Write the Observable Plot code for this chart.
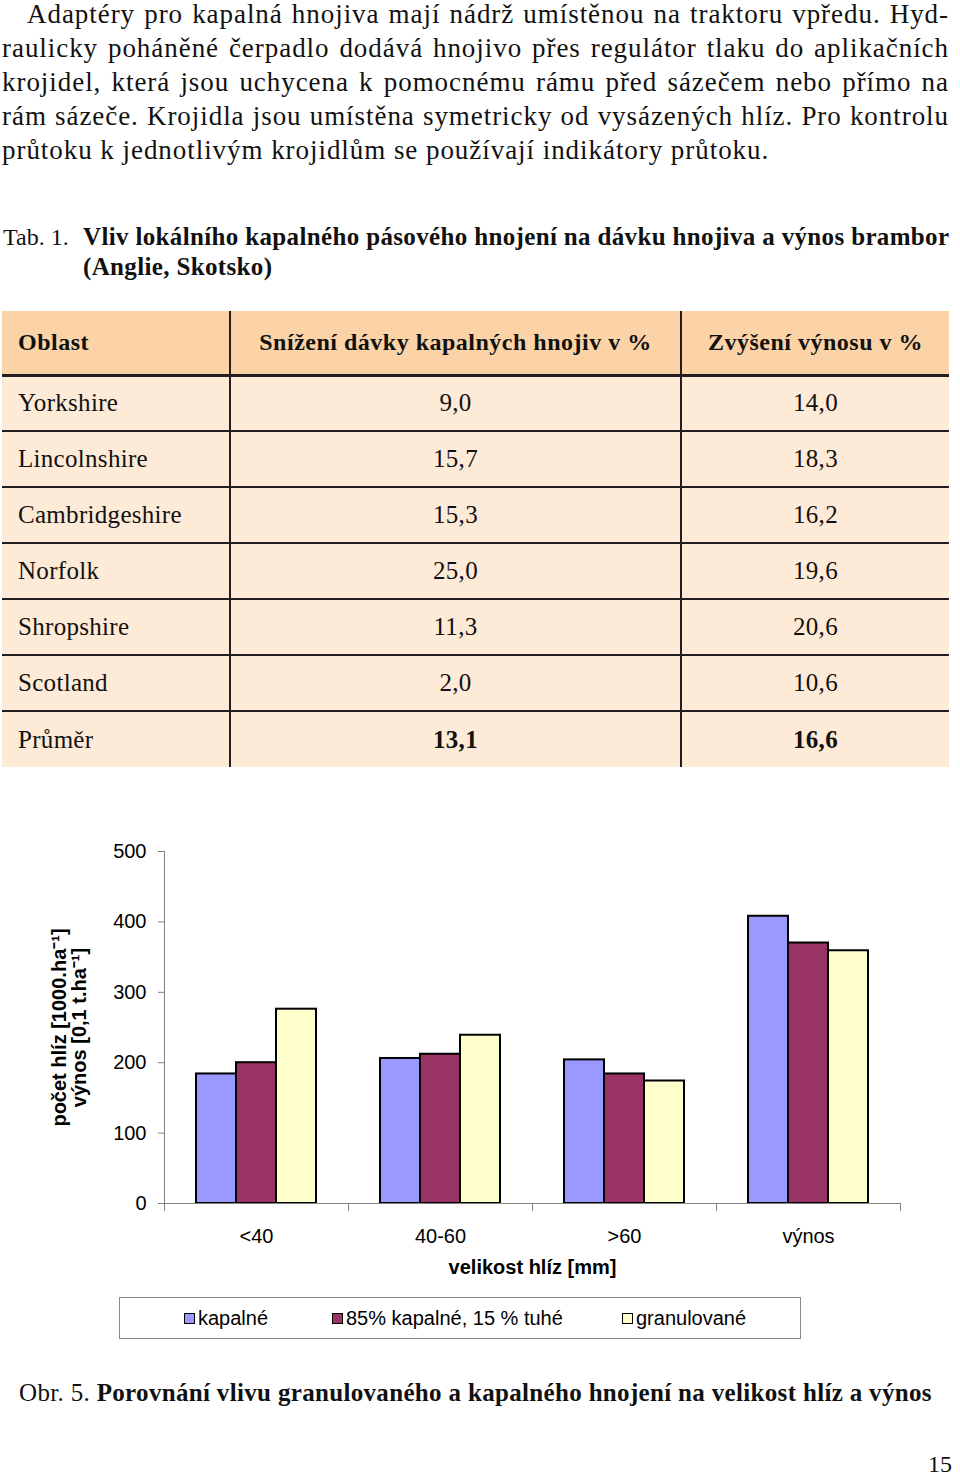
<!DOCTYPE html>
<html>
<head>
<meta charset="utf-8">
<script src="https://cdn.jsdelivr.net/npm/d3@7"></script>
<script src="https://cdn.jsdelivr.net/npm/@observablehq/plot@0.6"></script>
<style>
  html, body { margin: 0; padding: 0; background: #fff; }
  #page { position: relative; width: 960px; height: 1476px; overflow: hidden; font-family: "Liberation Serif", "DejaVu Serif", serif; color: #111; }
  .abs { position: absolute; }
  .pline { position: absolute; left: 2px; width: 947px; height: 34px; line-height: 34px; font-size: 27px; letter-spacing: 0.95px; white-space: nowrap; text-align: justify; text-align-last: justify; }
  .pline.last { text-align-last: left; }
  #tabcap { left: 3px; top: 222px; font-size: 24px; line-height: 30px; }
  #tabcap b { font-size: 25px; letter-spacing: 0.35px; }
  table { position: absolute; left: 2px; top: 311px; width: 947px; border-collapse: collapse; font-size: 25px; letter-spacing: 0.3px; }
  th, td { padding: 0; }
  thead tr { background: #FBD3A6; height: 64px; }
  thead th { font-weight: bold; font-size: 24px; letter-spacing: 0.5px; border-bottom: 3px solid #231F20; }
  tbody tr { background: #FDEAD7; height: 56px; }
  tbody tr + tr td { border-top: 2px solid #231F20; }
  th + th, td + td { border-left: 2px solid #231F20; }
  .c1 { text-align: left; padding-left: 16px; width: 211px; }
  .c2 { text-align: center; width: 449px; }
  .c3 { text-align: center; }
  #chart { position: absolute; left: 0; top: 820px; }
  #chart svg { overflow: visible; }
  g[aria-label="y-axis label"] text, g[aria-label="fx-axis label"] text { font-weight: bold; }
  #legend { position: absolute; left: 119px; top: 1297px; width: 680px; height: 40px; border: 1px solid #8a8a8a; font-family: "Liberation Sans", Arial, sans-serif; font-size: 20px; color: #000; }
  .li { position: absolute; top: 0; height: 40px; line-height: 40px; white-space: nowrap; }
  .sw { display: inline-block; width: 9px; height: 9px; border: 1.5px solid #000; margin-right: 3px; vertical-align: 1px; }
  #caption { left: 19px; top: 1378px; font-size: 25px; letter-spacing: 0.33px; line-height: 30px; white-space: nowrap; }
  #pageno { right: 8px; top: 1452px; font-size: 24px; line-height: 24px; }
</style>
</head>
<body>
<div id="page">
  <div id="para"></div>
  <div id="tabcap" class="abs"></div>
  <table id="tab"></table>
  <div id="chart"></div>
  <div id="legend"></div>
  <div id="caption" class="abs"></div>
  <div id="pageno" class="abs">15</div>
</div>
<script>
// ---------- text ----------
const paragraphLines = [
  "Adaptéry pro kapalná hnojiva mají nádrž umístěnou na traktoru vpředu. Hyd-",
  "raulicky poháněné čerpadlo dodává hnojivo přes regulátor tlaku do aplikačních",
  "krojidel, která jsou uchycena k pomocnému rámu před sázečem nebo přímo na",
  "rám sázeče. Krojidla jsou umístěna symetricky od vysázených hlíz. Pro kontrolu",
  "průtoku k jednotlivým krojidlům se používají indikátory průtoku."
];
const tableCaptionLabel = "Tab. 1.";
const tableCaptionText = ["Vliv lokálního kapalného pásového hnojení na dávku hnojiva a výnos brambor", "(Anglie, Skotsko)"];
const tableHeaders = ["Oblast", "Snížení dávky kapalných hnojiv v %", "Zvýšení výnosu v %"];
const regions = ["Yorkshire", "Lincolnshire", "Cambridgeshire", "Norfolk", "Shropshire", "Scotland", "Průměr"];
const doseReduction = ["9,0", "15,7", "15,3", "25,0", "11,3", "2,0", "13,1"];
const yieldIncrease = ["14,0", "18,3", "16,2", "19,6", "20,6", "10,6", "16,6"];
const figureLabel = "Obr. 5.";
const figureTitle = "Porovnání vlivu granulovaného a kapalného hnojení na velikost hlíz a výnos";

// ---------- chart data ----------
const categories = ["<40", "40-60", ">60", "výnos"];
const seriesNames = ["kapalné", "85% kapalné, 15 % tuhé", "granulované"];
const kapalne = [184, 206, 204, 408];
const kapalneTuhe = [200, 212, 184, 370];
const granulovane = [276, 239, 174, 359];
const seriesColors = ["#9999FF", "#993366", "#FFFFCC"];
const yTicks = [0, 100, 200, 300, 400, 500];
const yLabel = "počet hlíz [1000.ha⁻¹]\nvýnos [0,1 t.ha⁻¹]";
const xLabel = "velikost hlíz [mm]";

// paragraph
const para = document.getElementById("para");
paragraphLines.forEach((t, i) => {
  const d = document.createElement("div");
  d.className = "pline" + (i === paragraphLines.length - 1 ? " last" : "");
  d.style.top = (-3 + i * 34) + "px";
  if (i === 0) { d.style.left = "27px"; d.style.width = "922px"; }
  d.textContent = t;
  para.appendChild(d);
});

// table caption
const tc = document.getElementById("tabcap");
tc.innerHTML = `<div style="position:relative"><span>${tableCaptionLabel}</span><b style="position:absolute;left:80px;top:0;white-space:nowrap">${tableCaptionText[0]}<br>${tableCaptionText[1]}</b></div>`;

// table
const tab = document.getElementById("tab");
let html = "<thead><tr>" + tableHeaders.map((h, i) => `<th class="c${i + 1}">${h}</th>`).join("") + "</tr></thead><tbody>";
regions.forEach((r, i) => {
  const last = i === regions.length - 1;
  const v1 = last ? `<b>${doseReduction[i]}</b>` : doseReduction[i];
  const v2 = last ? `<b>${yieldIncrease[i]}</b>` : yieldIncrease[i];
  html += `<tr><td class="c1">${r}</td><td class="c2">${v1}</td><td class="c3">${v2}</td></tr>`;
});
html += "</tbody>";
tab.innerHTML = html;

// chart
const seriesValues = [kapalne, kapalneTuhe, granulovane];
const data = [];
categories.forEach((c, ci) => seriesNames.forEach((s, si) => data.push({cat: c, series: s, value: seriesValues[si][ci]})));

const chart = Plot.plot({
  width: 960,
  height: 470,
  marginTop: 31,
  marginLeft: 163,
  marginRight: 60,
  marginBottom: 87,
  style: {fontFamily: "'Liberation Sans', Arial, sans-serif", fontSize: "20px", color: "#000", background: "transparent"},
  fx: {domain: categories, paddingInner: 0, paddingOuter: 0},
  x: {domain: seriesNames, paddingInner: 0, paddingOuter: 0.76, axis: null},
  y: {domain: [0, 500]},
  color: {domain: seriesNames, range: seriesColors},
  marks: [
    Plot.axisY({ticks: yTicks, tickSize: 6, tickPadding: 12, stroke: "#808080", label: yLabel, labelAnchor: "center", labelArrow: "none", labelOffset: 113}),
    Plot.axisFx({anchor: "bottom", tickSize: 0, tickPadding: 25, label: xLabel, labelAnchor: "center", labelOffset: 70}),
    Plot.barY(data, {fx: "cat", x: "series", y: "value", fill: "series", stroke: "#000", strokeWidth: 2}),
    Plot.ruleY([0], {stroke: "#808080", strokeWidth: 1}),
    Plot.frame({anchor: "left", insetTop: 352, insetBottom: -7, stroke: "#808080"}),
    Plot.frame({anchor: "right", insetTop: 352, insetBottom: -7, stroke: "#808080"}),
    Plot.frame({anchor: "left", facet: "super", stroke: "#808080"})
  ]
});
document.getElementById("chart").appendChild(chart);

// legend
const legend = document.getElementById("legend");
const legendX = [64, 212, 502];
seriesNames.forEach((s, i) => {
  const d = document.createElement("div");
  d.className = "li";
  d.style.left = legendX[i] + "px";
  d.innerHTML = `<span class="sw" style="background:${seriesColors[i]}"></span>${s}`;
  legend.appendChild(d);
});

// caption
document.getElementById("caption").innerHTML = `${figureLabel} <b>${figureTitle}</b>`;
</script>
</body>
</html>
